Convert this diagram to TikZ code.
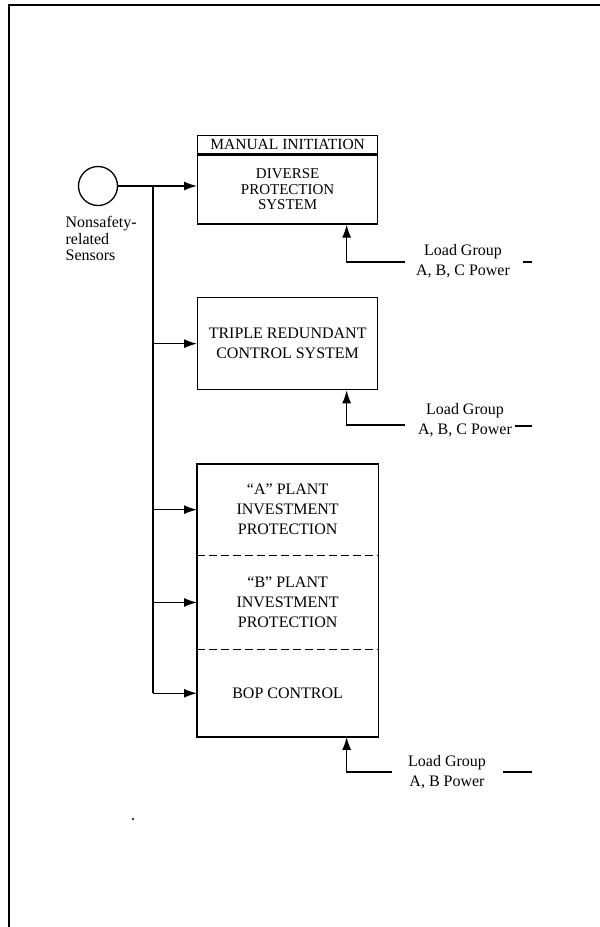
\documentclass[tikz,border=0pt]{standalone}
\usepackage{fontspec}
\setmainfont{Liberation Serif}
\usetikzlibrary{positioning,arrows.meta}

\begin{document}
\begin{tikzpicture}[x=1pt, y=-1pt, line width=1.3pt,
	every node/.style={font=\fontsize{16}{20}\selectfont},
	>={Latex[length=13pt,width=9pt]},
	block/.style={draw, minimum width=180, align=center, inner sep=0pt},
	part/.style={minimum width=180, align=center, inner sep=0pt},
	load/.style={align=center, inner sep=0pt},
	sep/.style={dash pattern=on 8pt off 4pt}]
	\useasboundingbox (0,0) rectangle (600,927);

	% Frame
	\draw[line width=1.6pt] (600,5) -- (9,5) -- (9,927);

	% Sensors
	\node[draw, circle, minimum size=39, inner sep=0pt] (sensor) at (98,186) {};
	\node[anchor=north west, align=left, inner sep=0pt, font=\fontsize{16}{16.5}\selectfont] (sensorlbl) at (65,216) {Nonsafety-\\related\\Sensors};

	% Diverse protection system
	\node[block, anchor=north west, minimum height=18, font=\fontsize{15.5}{16}\selectfont] (manual) at (197,135) {MANUAL INITIATION};
	\node[block, below=0pt of manual, minimum height=69, font=\fontsize{15}{15.5}\selectfont] (dps) {DIVERSE\\PROTECTION\\SYSTEM};

	% Triple redundant control system
	\node[block, anchor=north west, minimum height=92] (trcs) at (197,297) {TRIPLE REDUNDANT\\CONTROL SYSTEM};

	% Plant investment protection and BOP control
	\node[part, anchor=north west, minimum height=90] (pipa) at (197,464) {“A” PLANT\\INVESTMENT\\PROTECTION};
	\node[part, below=0pt of pipa, minimum height=93] (pipb) {“B” PLANT\\INVESTMENT\\PROTECTION};
	\node[part, below=0pt of pipb, minimum height=86] (bop) {BOP CONTROL};
	\draw (pipa.north west) rectangle (bop.south east);
	\draw[sep] (pipa.south west) -- (pipa.south east);
	\draw[sep] (pipb.south west) -- (pipb.south east);

	% Sensor signals
	\coordinate (split) at (153,186);
	\draw[->] (sensor.east) -- (sensor.east -| dps.west);
	\draw (split) -- (split |- bop.west);
	\foreach \n in {trcs, pipa, pipb, bop}
		\draw[->] (split |- \n.west) -- (\n.west);

	% Power feeds
	\node[load] (load1) at (463,261) {Load Group\\A, B, C Power};
	\coordinate (feed1) at (405,262);
	\draw[->] (feed1) -| ([xshift=59]dps.south);
	\draw (523,262) -- (532,262);

	\node[load] (load2) at (465,420) {Load Group\\A, B, C Power};
	\coordinate (feed2) at (405,425);
	\draw[->] (feed2) -| ([xshift=59]trcs.south);
	\draw (515,426) -- (532,426);

	\node[load] (load3) at (447,772) {Load Group\\A, B Power};
	\coordinate (feed3) at (392,772);
	\draw[->] (feed3) -| ([xshift=59]bop.south);
	\draw (503,772) -- (532,772);

	\fill (133,819) circle (1.2);
\end{tikzpicture}
\end{document}
